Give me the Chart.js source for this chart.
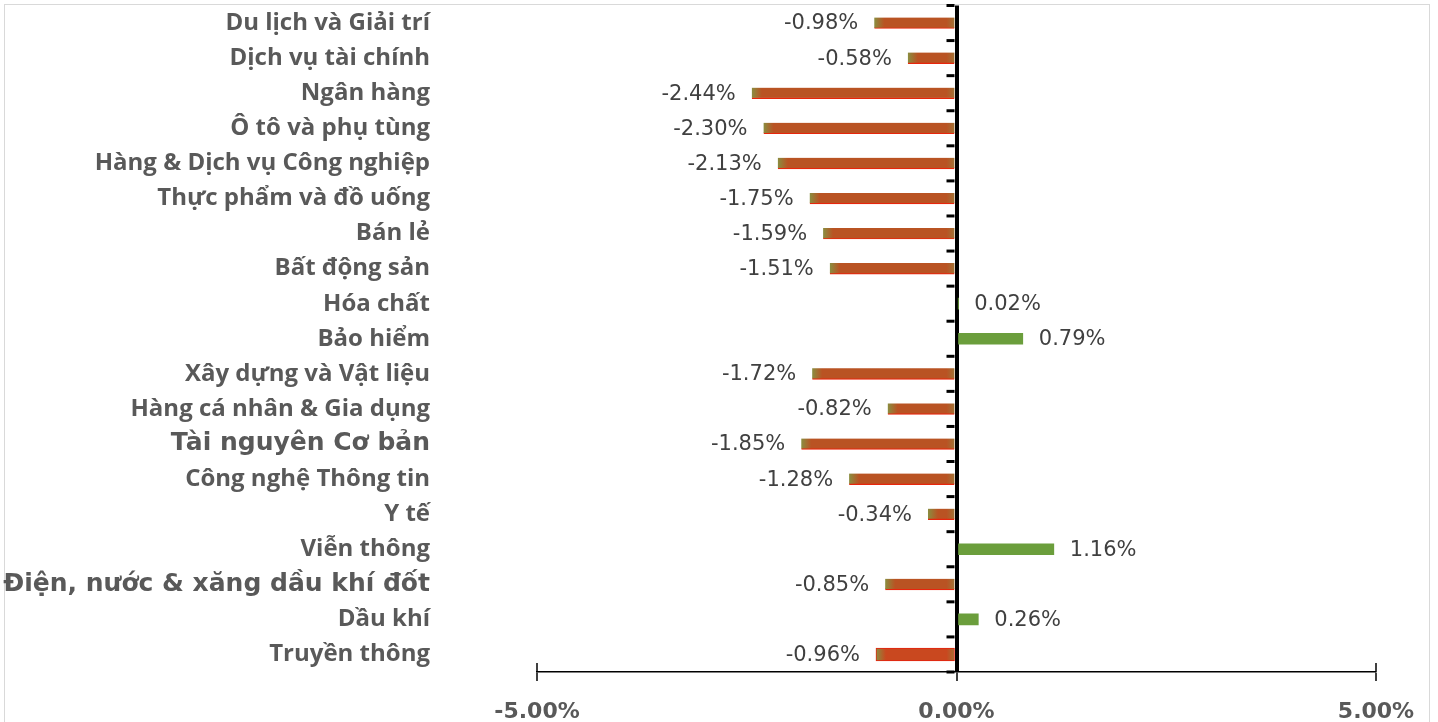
<!DOCTYPE html>
<html>
<head>
<meta charset="utf-8">
<script src="https://cdn.jsdelivr.net/npm/chart.js@4.4.0/dist/chart.umd.min.js"></script>
<style>
  body { margin: 0; background: #fff; overflow: hidden; }
  #frame { position: absolute; left: 4px; top: 4px; width: 1424px; height: 740px; border: 1.5px solid #d9d9d9; }
  #wrap { position: absolute; left: 0; top: 0; width: 1438px; height: 722px; }
</style>
</head>
<body>
<div id="frame"></div>
<div id="wrap"><canvas id="chart"></canvas></div>
<script>
// sectors, top to bottom
const sectors = [
  "Du lịch và Giải trí",
  "Dịch vụ tài chính",
  "Ngân hàng",
  "Ô tô và phụ tùng",
  "Hàng & Dịch vụ Công nghiệp",
  "Thực phẩm và đồ uống",
  "Bán lẻ",
  "Bất động sản",
  "Hóa chất",
  "Bảo hiểm",
  "Xây dựng và Vật liệu",
  "Hàng cá nhân & Gia dụng",
  "Tài nguyên Cơ bản",
  "Công nghệ Thông tin",
  "Y tế",
  "Viễn thông",
  "Điện, nước & xăng dầu khí đốt",
  "Dầu khí",
  "Truyền thông"
];
// % change
const changes = [-0.98, -0.58, -2.44, -2.30, -2.13, -1.75, -1.59, -1.51, 0.02, 0.79,
  -1.72, -0.82, -1.85, -1.28, -0.34, 1.16, -0.85, 0.26, -0.96];
const xTicks = [-5, 0, 5];
const highlightIndex = 18;   // last bar is drawn a bit thicker
const bigLabels = ["Tài nguyên Cơ bản", "Điện, nước & xăng dầu khí đốt"];

const mainData = changes.map((v, i) => i === highlightIndex ? null : v);
const hiData = changes.map((v, i) => i === highlightIndex ? v : null);

function barFill(body) {
  return function(ctx) {
    const v = ctx.raw;
    if (v == null) return body;
    if (v >= 0) return '#6B9E3C';
    const chart = ctx.chart;
    if (!chart.chartArea) return body;
    const x = chart.scales.x;
    const x0 = x.getPixelForValue(0), x1 = x.getPixelForValue(v);
    const len = x0 - x1;
    const e = Math.min(0.4, 10 / len);
    const g = chart.ctx.createLinearGradient(x1, 0, x0, 0);
    g.addColorStop(0, '#8A8E40');
    g.addColorStop(e, body);
    g.addColorStop(1 - e, body);
    g.addColorStop(1, '#9C7A3A');
    return g;
  };
}

// value labels next to the bar ends
const valueLabels = {
  id: 'valueLabels',
  afterDatasetsDraw(chart) {
    const c = chart.ctx;
    c.save();
    c.textBaseline = 'middle';
    c.fillStyle = '#404040';
    c.font = '21px "DejaVu Sans"';
    chart.data.datasets.forEach((ds, di) => {
      const meta = chart.getDatasetMeta(di);
      meta.data.forEach((bar, i) => {
        const v = ds.data[i];
        if (v == null) return;
        const txt = v.toFixed(2) + '%';
        if (v < 0) { c.textAlign = 'right'; c.fillText(txt, bar.x - 16, bar.y + 1); }
        else { c.textAlign = 'left'; c.fillText(txt, bar.x + 16, bar.y + 1); }
      });
    });
    c.restore();
  }
};

// axis tick marks: upward parts on the x axis, category boundaries on the zero line
const axisMarks = {
  id: 'axisMarks',
  afterDraw(chart) {
    const c = chart.ctx, x = chart.scales.x, y = chart.scales.y, b = chart.chartArea.bottom;
    c.save();
    c.strokeStyle = '#000';
    c.lineWidth = 1.5;
    xTicks.forEach(t => {
      if (t === 0) return;
      const px = x.getPixelForValue(t);
      c.beginPath(); c.moveTo(px, b - 9); c.lineTo(px, b); c.stroke();
    });
    const x0 = x.getPixelForValue(0) - 2;
    const half = (y.getPixelForValue(1) - y.getPixelForValue(0)) / 2;
    c.lineWidth = 3;
    for (let i = 0; i <= sectors.length; i++) {
      const py = y.getPixelForValue(i) - half;
      c.beginPath(); c.moveTo(x0 - 8, py); c.lineTo(x0, py); c.stroke();
    }
    c.restore();
  }
};

new Chart(document.getElementById('chart'), {
  type: 'bar',
  data: {
    labels: sectors,
    datasets: [
      {
        data: mainData,
        grouped: false,
        barThickness: 11,
        backgroundColor: barFill('#B95323'),
        borderColor: '#E8250C',
        borderWidth: ctx => (ctx.raw != null && ctx.raw < 0) ? {top: 0, left: 0, right: 0, bottom: 1.2} : 0,
        borderSkipped: false
      },
      {
        data: hiData,
        grouped: false,
        barThickness: 13,
        backgroundColor: barFill('#C9481F'),
        borderColor: '#E8200C',
        borderWidth: 1,
        borderSkipped: false
      }
    ]
  },
  options: {
    indexAxis: 'y',
    responsive: true,
    maintainAspectRatio: false,
    animation: false,
    layout: { padding: { top: 5.5, right: 62, left: 0, bottom: 0 } },
    plugins: { legend: { display: false }, tooltip: { enabled: false } },
    scales: {
      x: {
        min: -5,
        max: 5,
        afterBuildTicks: s => { s.ticks = xTicks.map(v => ({ value: v })); },
        afterFit: s => { s.height = 50; },
        border: { display: true, color: '#000', width: 1.5 },
        grid: {
          drawOnChartArea: true,
          color: ctx => ctx.tick && ctx.tick.value === 0 ? '#000' : 'rgba(0,0,0,0)',
          lineWidth: ctx => ctx.tick && ctx.tick.value === 0 ? 4 : 0,
          tickColor: '#000',
          tickWidth: 1.5,
          tickLength: 9
        },
        ticks: {
          padding: 18,
          color: '#595959',
          font: { family: 'DejaVu Sans', size: 22, weight: 'bold' },
          callback: v => v.toFixed(2) + '%'
        }
      },
      y: {
        afterFit: s => { s.width = 537; s.paddingTop = 0; s.paddingBottom = 0; },
        border: { display: false },
        // invisible long tick marks push the labels away from the plot
        grid: { display: true, drawOnChartArea: false, drawTicks: true, tickLength: 103, tickColor: 'rgba(0,0,0,0)', color: 'rgba(0,0,0,0)' },
        ticks: {
          padding: 4,
          color: '#595959',
          font: ctx => {
            const lab = sectors[ctx.index];
            return bigLabels.includes(lab)
              ? { family: 'DejaVu Sans', size: 25, weight: 'bold' }
              : { family: 'Open Sans', size: 24, weight: 'bold' };
          }
        }
      }
    }
  },
  plugins: [valueLabels, axisMarks]
});
</script>
</body>
</html>
